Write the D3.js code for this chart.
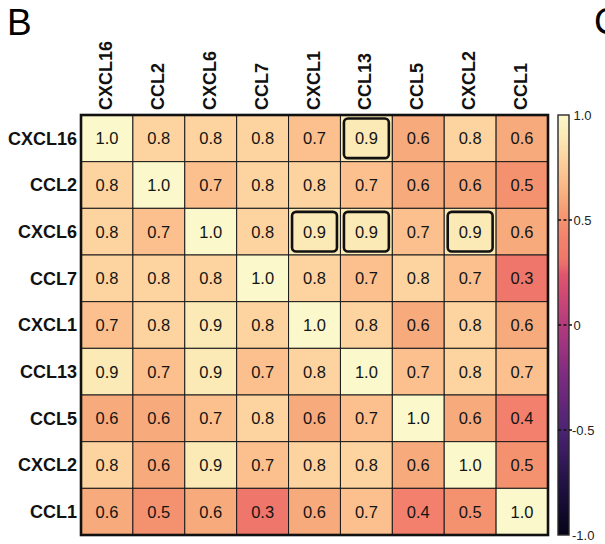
<!DOCTYPE html>
<html>
<head>
<meta charset="utf-8">
<script src="https://cdn.jsdelivr.net/npm/d3@7"></script>
<style>
  html, body { margin: 0; padding: 0; background: #fff; }
  svg { display: block; font-family: "Liberation Sans", Arial, sans-serif; }
</style>
</head>
<body>
<svg id="chart" width="605" height="544"></svg>
<script>
// Chemokines shown on both axes of the correlation matrix
const genes = ["CXCL16", "CCL2", "CXCL6", "CCL7", "CXCL1", "CCL13", "CCL5", "CXCL2", "CCL1"];

// Pairwise correlation coefficients, one row per gene
const rowCXCL16 = [1.0, 0.8, 0.8, 0.8, 0.7, 0.9, 0.6, 0.8, 0.6];
const rowCCL2   = [0.8, 1.0, 0.7, 0.8, 0.8, 0.7, 0.6, 0.6, 0.5];
const rowCXCL6  = [0.8, 0.7, 1.0, 0.8, 0.9, 0.9, 0.7, 0.9, 0.6];
const rowCCL7   = [0.8, 0.8, 0.8, 1.0, 0.8, 0.7, 0.8, 0.7, 0.3];
const rowCXCL1  = [0.7, 0.8, 0.9, 0.8, 1.0, 0.8, 0.6, 0.8, 0.6];
const rowCCL13  = [0.9, 0.7, 0.9, 0.7, 0.8, 1.0, 0.7, 0.8, 0.7];
const rowCCL5   = [0.6, 0.6, 0.7, 0.8, 0.6, 0.7, 1.0, 0.6, 0.4];
const rowCXCL2  = [0.8, 0.6, 0.9, 0.7, 0.8, 0.8, 0.6, 1.0, 0.5];
const rowCCL1   = [0.6, 0.5, 0.6, 0.3, 0.6, 0.7, 0.4, 0.5, 1.0];
const matrix = [rowCXCL16, rowCCL2, rowCXCL6, rowCCL7, rowCXCL1, rowCCL13, rowCCL5, rowCXCL2, rowCCL1];

// Pairs outlined as the strongest off-diagonal correlations [row gene, column gene]
const highlighted = [["CXCL16", "CCL13"], ["CXCL6", "CXCL1"], ["CXCL6", "CCL13"], ["CXCL6", "CXCL2"]];

// Colour bar ticks
const barTicks = [1.0, 0.5, 0, -0.5, -1.0];
const barTickLabels = ["1.0", "0.5", "0", "-0.5", "-1.0"];

const svg = d3.select("#chart");

// Panel letters
svg.append("text").attr("x", 7).attr("y", 35).attr("font-size", 37).attr("fill", "#000").text("B");
svg.append("text").attr("x", 594).attr("y", 34).attr("font-size", 37).attr("fill", "#000").text("C");

const gx0 = 81, gy0 = 115, gx1 = 548, gy1 = 535;

const x = d3.scaleBand().domain(genes).range([gx0, gx1]);
const y = d3.scaleBand().domain(genes).range([gy0, gy1]);

// Sequential palette running from dark purple (-1) to pale cream (+1)
const color = d3.scaleLinear()
  .domain([-1, -0.75, -0.5, -0.25, 0, 0.25, 0.3, 0.4, 0.5, 0.6, 0.7, 0.8, 0.9, 1])
  .range(["#050418", "#221245", "#4b2373", "#7b2b80", "#b43a7e", "#e2556c", "#ef766a",
          "#f2806c", "#f4926f", "#f7aa7c", "#fbc08e", "#fdd4a0", "#fbeab6", "#fbf8cb"])
  .clamp(true);

const cells = [];
matrix.forEach((row, i) => row.forEach((v, j) => cells.push({ r: genes[i], c: genes[j], v })));

const grid = svg.append("g");
grid.selectAll("rect.cell").data(cells).join("rect")
  .attr("class", "cell")
  .attr("x", d => x(d.c)).attr("y", d => y(d.r))
  .attr("width", x.bandwidth()).attr("height", y.bandwidth())
  .attr("fill", d => color(d.v))
  .attr("stroke", "#1a1a1a").attr("stroke-width", 1);

grid.selectAll("text.val").data(cells).join("text")
  .attr("class", "val")
  .attr("x", d => x(d.c) + x.bandwidth() / 2)
  .attr("y", d => y(d.r) + y.bandwidth() / 2)
  .attr("dy", "0.36em")
  .attr("text-anchor", "middle")
  .attr("font-size", 16.5)
  .attr("fill", "#141414")
  .text(d => d3.format(".1f")(d.v));

// Outlines around the highlighted pairs
grid.selectAll("rect.hl").data(highlighted).join("rect")
  .attr("class", "hl")
  .attr("x", d => x(d[1]) + 3.5).attr("y", d => y(d[0]) + 3.5)
  .attr("width", x.bandwidth() - 7).attr("height", y.bandwidth() - 7)
  .attr("rx", 4).attr("ry", 4)
  .attr("fill", "none").attr("stroke", "#111").attr("stroke-width", 2.6);

// Heavy frame around the matrix
svg.append("rect")
  .attr("x", gx0).attr("y", gy0).attr("width", gx1 - gx0).attr("height", gy1 - gy0)
  .attr("fill", "none").attr("stroke", "#111").attr("stroke-width", 2.6);

// Row labels
svg.append("g").selectAll("text").data(genes).join("text")
  .attr("x", gx0 - 4)
  .attr("y", d => y(d) + y.bandwidth() / 2)
  .attr("dy", "0.36em")
  .attr("text-anchor", "end")
  .attr("font-size", 18).attr("font-weight", "bold").attr("fill", "#111")
  .text(d => d);

// Column labels, rotated
svg.append("g").selectAll("text").data(genes).join("text")
  .attr("transform", d => `translate(${x(d) + x.bandwidth() / 2 + 5},${gy0 - 5}) rotate(-90)`)
  .attr("text-anchor", "start")
  .attr("font-size", 18).attr("font-weight", "bold").attr("fill", "#111")
  .text(d => d);

// Colour bar
const bx = 558, bw = 11;
const cb = d3.scaleLinear().domain([-1, 1]).range([gy1, gy0]);
const defs = svg.append("defs");
const grad = defs.append("linearGradient").attr("id", "cbar")
  .attr("x1", 0).attr("y1", 1).attr("x2", 0).attr("y2", 0);
grad.selectAll("stop").data(d3.range(0, 1.0001, 0.02)).join("stop")
  .attr("offset", t => t)
  .attr("stop-color", t => color(-1 + 2 * t));

svg.append("rect")
  .attr("x", bx).attr("y", cb(1)).attr("width", bw).attr("height", cb(-1) - cb(1))
  .attr("fill", "url(#cbar)").attr("stroke", "#2a2a2a").attr("stroke-width", 1.4);

const tickG = svg.append("g");
tickG.selectAll("line").data(barTicks.filter(t => Math.abs(t) < 1)).join("line")
  .attr("x1", bx).attr("x2", bx + bw + 3)
  .attr("y1", d => cb(d)).attr("y2", d => cb(d))
  .attr("stroke", "#111").attr("stroke-width", 1.4).attr("stroke-dasharray", "3,2.5");

tickG.selectAll("text").data(barTicks).join("text")
  .attr("x", (d, i) => bx + bw + (barTickLabels[i].startsWith("-") ? 3 : 4.5))
  .attr("y", d => cb(d))
  .attr("dy", "0.36em")
  .attr("font-size", 13).attr("fill", "#222")
  .text((d, i) => barTickLabels[i]);
</script>
</body>
</html>
